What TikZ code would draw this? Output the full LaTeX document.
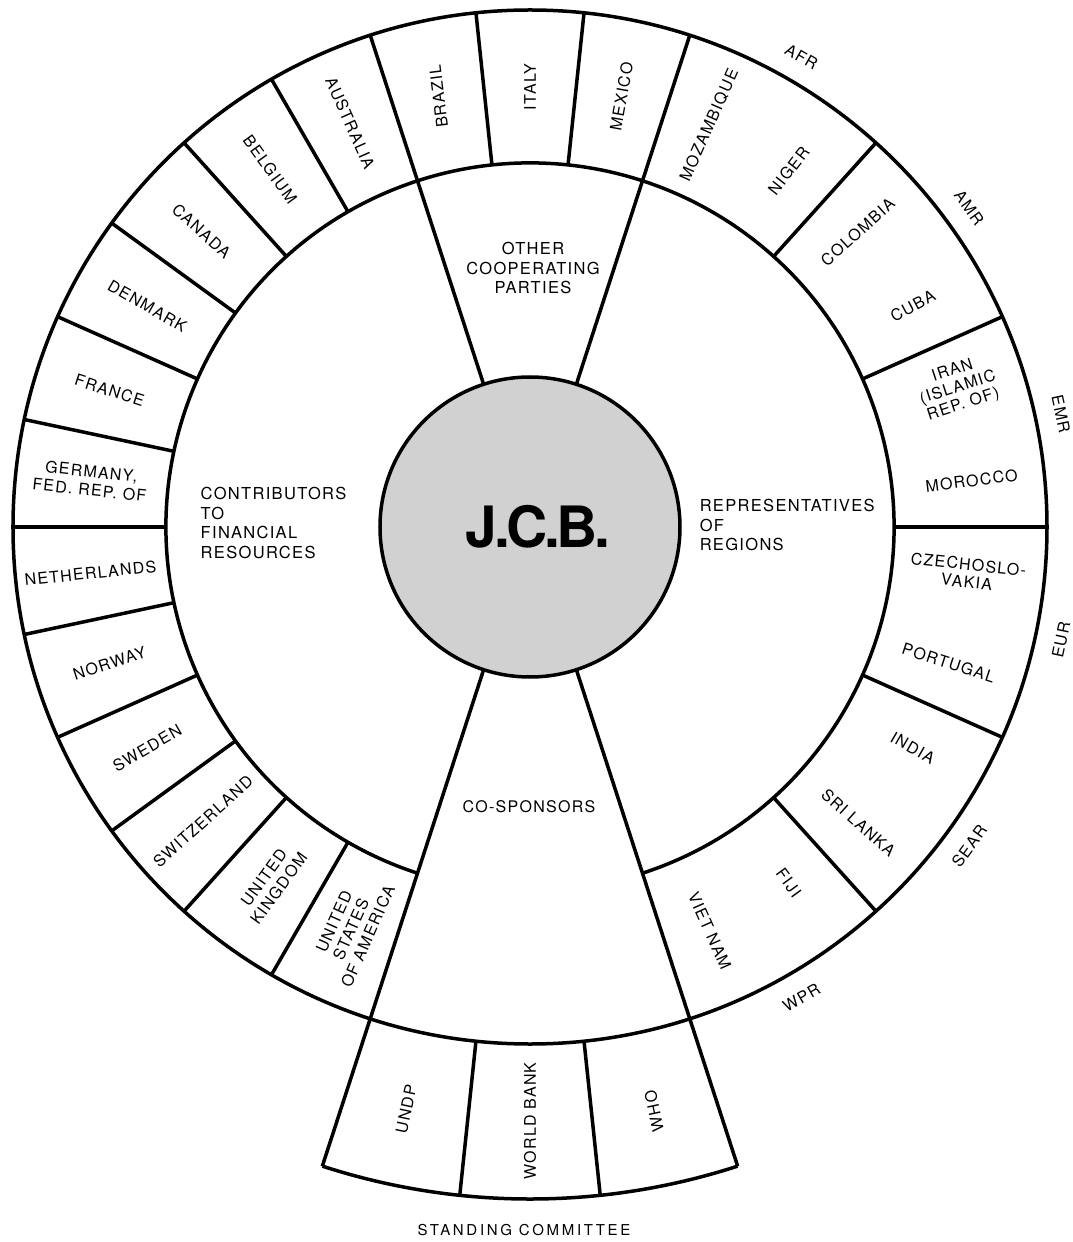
\documentclass[tikz,border=0pt]{standalone}
\usepackage{fontspec}
\setmainfont{TeX Gyre Heros}[LetterSpace=8]
\newfontfamily\jcbfont{TeX Gyre Heros}[LetterSpace=-6]
\newfontfamily\scfont{TeX Gyre Heros}[LetterSpace=18]
\begin{document}
\begin{tikzpicture}[x=1pt,y=1pt,line width=3.5pt,
  lab/.style={font=\fontsize{16}{18.5}\selectfont,align=center,inner sep=0pt},
  inlab/.style={font=\fontsize{16.5}{19.5}\selectfont,align=left,inner sep=0pt,anchor=west},
  ]
\useasboundingbox (-530,-715) rectangle (543,527);
\fill[white] (-530,-715) rectangle (543,527);
\coordinate (C) at (0,0);
% rings
\draw[fill=black!18] (C) circle[radius=150];
\draw (C) circle[radius=517];
\draw (-72:364) arc[start angle=-72,end angle=252,radius=364];
\draw (252:672) arc[start angle=252,end angle=288,radius=672];
% sector boundaries
\draw (108:150) -- (108:517);
\draw (72:150) -- (72:517);
\draw (252:150) -- (252:672);
\draw (288:150) -- (288:672);
\foreach \a in {84,96,120,132,144,156,168,180,192,204,216,228,240,48,24,0,-24,-48}
  \draw (\a:364) -- (\a:517);
\foreach \a in {264,276}
  \draw (\a:517) -- (\a:672);
% centre
\node[font=\jcbfont\fontsize{57}{60}\selectfont\bfseries,inner sep=0pt] (jcb) at (8,0) {J.C.B.};
\node[lab,font=\fontsize{16.5}{19.5}\selectfont] (ocp) at (3,259) {OTHER\\COOPERATING\\PARTIES};
\node[inlab] (cfr) at (-331,4) {CONTRIBUTORS\\TO\\FINANCIAL\\RESOURCES};
\node[inlab] (ror) at (168,2) {REPRESENTATIVES\\OF\\REGIONS};
\node[lab] (cos) at (-1,-280) {CO-SPONSORS};
% top
\node[lab,rotate=97] (brazil) at (102:440) {BRAZIL};
\node[lab,rotate=90] (italy) at (90:440) {ITALY};
\node[lab,rotate=80] (mexico) at (78:440) {MEXICO};
% contributors
\node[lab,rotate=-66] (australia) at (114:442) {AUSTRALIA};
\node[lab,rotate=-54] (belgium) at (126:442) {BELGIUM};
\node[lab,rotate=-42] (canada) at (138:442) {CANADA};
\node[lab,rotate=-30] (denmark) at (150:442) {DENMARK};
\node[lab,rotate=-18] (france) at (162:442) {FRANCE};
\node[lab,rotate=-6] (germany) at (174:442) {GERMANY,\\FED. REP. OF};
\node[lab,rotate=6] (netherlands) at (186:442) {NETHERLANDS};
\node[lab,rotate=18] (norway) at (198:442) {NORWAY};
\node[lab,rotate=30] (sweden) at (210:442) {SWEDEN};
\node[lab,rotate=42] (switzerland) at (222:440) {SWITZERLAND};
\node[lab,rotate=54] (uk) at (234:440) {UNITED\\KINGDOM};
\node[lab,rotate=66] (usa) at (246:440) {UNITED\\STATES\\OF AMERICA};
% regions
\node[lab,rotate=66] (mozambique) at (66:440) {MOZAMBIQUE};
\node[lab,rotate=52] (niger) at (54:440) {NIGER};
\node[lab,rotate=42] (colombia) at (42:441) {COLOMBIA};
\node[lab,rotate=28] (cuba) at (30:442) {CUBA};
\node[lab,rotate=18,font=\fontsize{16}{17.5}\selectfont] (iran) at (18:450) {IRAN\\(ISLAMIC\\REP. OF)};
\node[lab,rotate=7] (morocco) at (6:444) {MOROCCO};
\node[lab,rotate=-6,font=\fontsize{16}{17.5}\selectfont] (czech) at (-6:440) {CZECHOSLO-\\VAKIA};
\node[lab,rotate=-18] (portugal) at (-18:440) {PORTUGAL};
\node[lab,rotate=-30] (india) at (-30:442) {INDIA};
\node[lab,rotate=-42] (srilanka) at (-42:442) {SRI LANKA};
\node[lab,rotate=-54] (fiji) at (-54:440) {FIJI};
\node[lab,rotate=-66] (vietnam) at (-66:442) {VIET NAM};
% region codes
\node[lab,rotate=-30] (afr) at (60:543) {AFR};
\node[lab,rotate=-54] (amr) at (36:543) {AMR};
\node[lab,rotate=-78] (emr) at (12:543) {EMR};
\node[lab,rotate=78] (eur) at (-12:543) {EUR};
\node[lab,rotate=54] (sear) at (-36:543) {SEAR};
\node[lab,rotate=30] (wpr) at (-60:543) {WPR};
% standing committee
\node[lab,rotate=78] (undp) at (258:595) {UNDP};
\node[lab,rotate=90] (wb) at (270:594) {WORLD BANK};
\node[lab,rotate=102] (who) at (282:597) {WHO};
\node[inner sep=0pt,font=\scfont\fontsize{15}{17}\selectfont] (sc) at (-6,-703) {STANDING COMMITTEE};
\end{tikzpicture}
\end{document}
